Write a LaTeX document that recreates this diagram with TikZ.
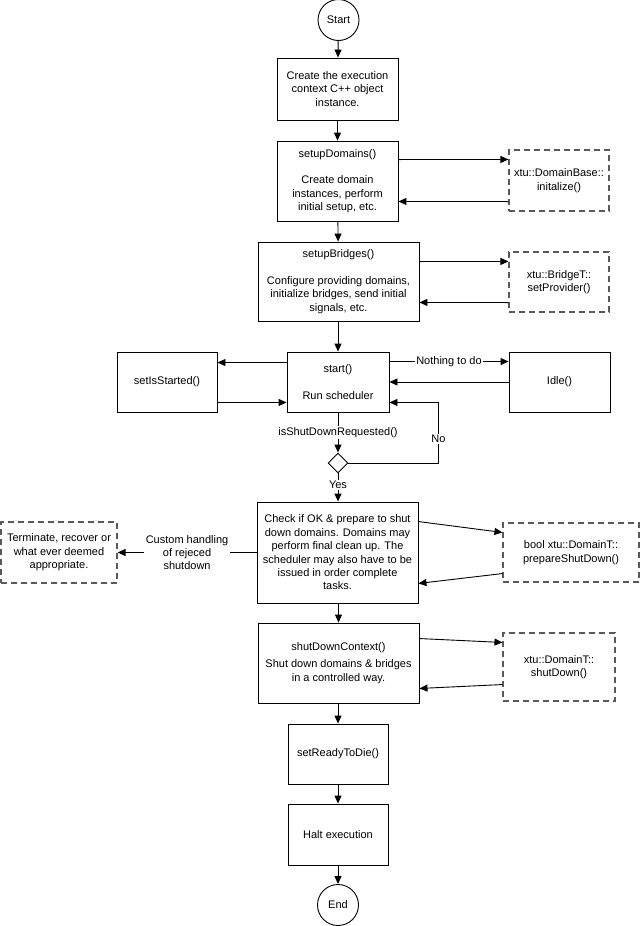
\documentclass[tikz,border=0pt]{standalone}
\usepackage{fontspec}
\setmainfont{Liberation Sans}
\usetikzlibrary{arrows.meta,shapes.geometric}
\begin{document}
\begin{tikzpicture}[x=1pt,y=-1pt,
  every node/.style={font=\fontsize{11}{13.4}\selectfont},
  box/.style={draw=black,line width=0.9pt,align=center,inner sep=0pt},
  dbox/.style={draw=black!65,line width=1.1pt,dash pattern=on 6pt off 4pt,align=center,inner sep=0pt},
  term/.style={draw=black,line width=0.9pt,circle,inner sep=0pt,minimum size=41pt},
  arr/.style={draw=black,line width=0.9pt,-{Triangle[length=8pt,width=7pt]}},
  lbl/.style={fill=white,inner sep=1pt,align=center}]
\useasboundingbox (0,0) rectangle (640,926);

% main column
\node[term] (start) at (338.5,20) {Start};
\node[box,minimum width=121pt,minimum height=62pt] (b1) at (337.5,89)
  {Create the execution\\context C++ object\\instance.};
\node[box,minimum width=121pt,minimum height=80pt] (b2) at (337.5,181)
  {setupDomains()\\[13.4pt]Create domain\\instances, perform\\initial setup, etc.};
\node[box,minimum width=161pt,minimum height=79pt] (b3) at (338.5,281.5)
  {setupBridges()\\[13.4pt]Configure providing domains,\\initialize bridges, send initial\\signals, etc.};
\node[box,minimum width=102pt,minimum height=60pt] (st) at (338,382)
  {start()\\[13.4pt]Run scheduler};
\node[draw=black,line width=0.9pt,diamond,inner sep=0pt,minimum width=20pt,minimum height=20pt] (dia) at (338,463) {};
\node[box,minimum width=161pt,minimum height=101pt] (ck) at (337.5,552.5)
  {Check if OK \& prepare to shut\\down domains. Domains may\\perform final clean up. The\\scheduler may also have to be\\issued in order complete\\tasks.};
\node[box,minimum width=161pt,minimum height=80pt] (sdc) at (338.5,663)
  {shutDownContext()\\[4pt]Shut down domains \& bridges\\in a controlled way.};
\node[box,minimum width=100pt,minimum height=60pt] (rtd) at (338,754) {setReadyToDie()};
\node[box,minimum width=100pt,minimum height=61pt] (halt) at (338,834.5) {Halt execution};
\node[term] (end) at (338,905) {End};

% side nodes
\node[dbox,minimum width=100pt,minimum height=61pt] (db) at (559,180.5) {xtu::DomainBase::\\initalize()};
\node[dbox,minimum width=100pt,minimum height=60pt] (bt) at (559,282) {xtu::BridgeT::\\setProvider()};
\node[box,minimum width=100pt,minimum height=60pt] (sis) at (167,382) {setIsStarted()};
\node[box,minimum width=101pt,minimum height=60pt] (idle) at (559.5,382) {Idle()};
\node[dbox,minimum width=116pt,minimum height=61pt] (tr) at (59,552.5) {Terminate, recover or\\what ever deemed\\appropriate.};
\node[dbox,minimum width=136pt,minimum height=59pt] (psd) at (571,552.5) {bool xtu::DomainT::\\prepareShutDown()};
\node[dbox,minimum width=112pt,minimum height=68pt] (sd) at (559,667) {xtu::DomainT::\\shutDown()};

% main flow
\draw[arr] (start) -- (b1);
\draw[arr] (b1) -- (b2);
\draw[arr] (b2) -- (b3);
\draw[arr] (b3.south -| st.north) -- (st);
\draw[arr] (st) -- node[lbl]{isShutDownRequested()} (dia);
\draw[arr] (dia) -- node[lbl,pos=0.4]{Yes} (ck.north -| dia.south);
\draw[arr] (ck.south -| sdc.north) -- (sdc);
\draw[arr] (sdc.south -| rtd.north) -- (rtd);
\draw[arr] (rtd) -- (halt);
\draw[arr] (halt) -- (end);

% side connectors
\draw[arr] ([yshift=-19pt]b2.north east) -- ([yshift=-10pt]db.north west);
\draw[arr] ([yshift=10pt]db.south west) -- ([yshift=20pt]b2.south east);
\draw[arr] ([yshift=-20pt]b3.north east) -- ([yshift=-10pt]bt.north west);
\draw[arr] ([yshift=10pt]bt.south west) -- ([yshift=19pt]b3.south east);
\draw[arr] ([yshift=-11pt]st.north west) -- ([yshift=-11pt]sis.north east);
\draw[arr] ([yshift=10pt]sis.south east) -- ([yshift=10pt]st.south west);
\draw[arr] ([yshift=-10pt]st.north east) -- node[lbl]{Nothing to do} ([yshift=-10pt]idle.north west);
\draw[arr] (idle.west) -- (st.east);
\draw[arr] (dia.east) -- ++(90,0) |- node[lbl,pos=0.2]{No} ([yshift=10pt]st.south east);
\draw[arr] (ck.west) -- node[lbl,inner sep=2pt]{Custom handling\\of rejeced\\shutdown} (tr.east);
\draw[arr] ([yshift=-20pt]ck.north east) -- ([yshift=-10pt]psd.north west);
\draw[arr] ([yshift=9pt]psd.south west) -- ([yshift=20pt]ck.south east);
\draw[arr] ([yshift=-16pt]sdc.north east) -- ([yshift=-10pt]sd.north west);
\draw[arr] ([yshift=17pt]sd.south west) -- ([yshift=15pt]sdc.south east);
\end{tikzpicture}
\end{document}
